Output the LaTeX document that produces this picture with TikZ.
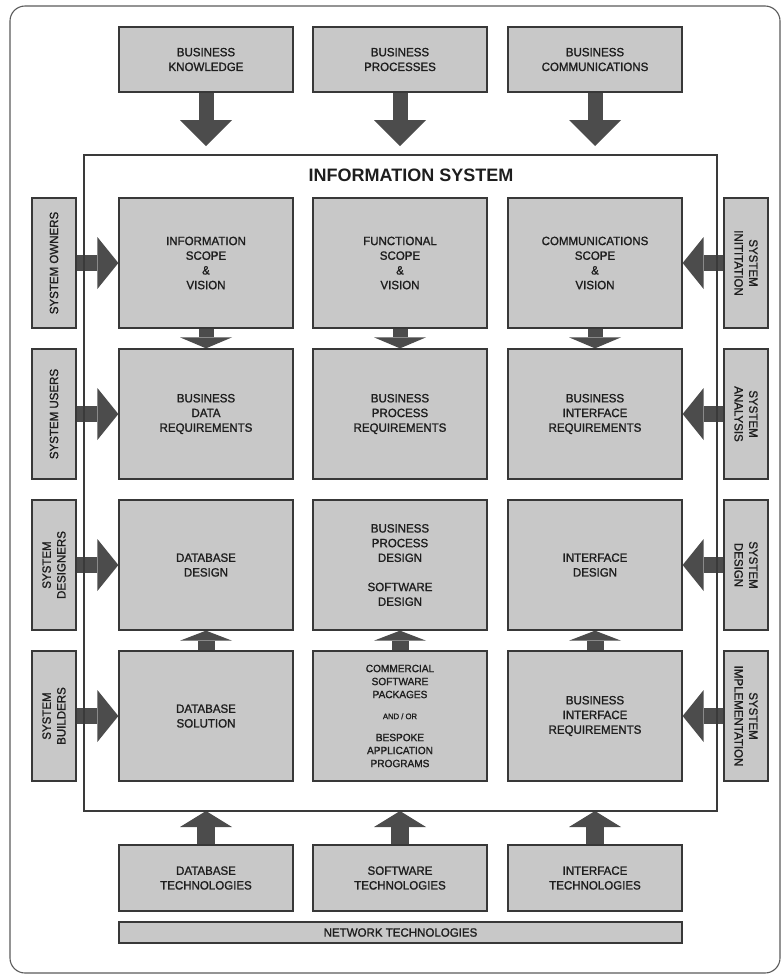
\documentclass[tikz,border=0pt]{standalone}
\usepackage{fontspec}
\setmainfont{Liberation Sans}
\newfontfamily\boxfont{Liberation Sans}[FakeBold=1.3,FakeStretch=0.96]
\usetikzlibrary{arrows.meta}
\definecolor{boxfill}{HTML}{C8C8C8}
\definecolor{boxline}{HTML}{383838}
\definecolor{arrowfill}{HTML}{4C4C4C}
\definecolor{frameline}{HTML}{3A3A3A}
\definecolor{outerline}{HTML}{5A5A5A}
\definecolor{inkdark}{HTML}{1E1E1E}
\pgfdeclarelayer{arrowlayer}
\pgfsetlayers{arrowlayer,main}

\begin{document}
\begin{tikzpicture}[x=1pt,y=-1pt,
  box/.style={draw=boxline, fill=boxfill, line width=1.3pt, text=inkdark,
    align=center, inner sep=0pt, font=\boxfont\fontsize{12}{14.7}\selectfont},
  gridbox/.style={box, minimum width=174pt, minimum height=130pt},
  srcbox/.style={box, minimum width=174pt, minimum height=65pt},
  leftbox/.style={box, rotate=90, minimum width=130pt, minimum height=44pt},
  rightbox/.style={box, rotate=-90, minimum width=130pt, minimum height=44pt},
  fatarrow/.style n args={3}{arrowfill, line width=#1,
    -{Triangle[width=52pt, length=#2, line width=0pt]}},
  framebox/.style={minimum width=633pt, minimum height=656pt, inner sep=0pt, outer sep=0pt},
]
\useasboundingbox (0,0) rectangle (781,975);

% outer rounded border
\draw[outerline, line width=1.1pt, rounded corners=15pt] (10,6) rectangle (780,973);

% information system frame (position only; outline drawn last)
\node[framebox] (isf) at (400.5,483) {};
\node[text=inkdark, font=\fontsize{18}{20}\selectfont\bfseries] (title) at (411,175) {INFORMATION SYSTEM};

% source boxes on top
\node[srcbox] (bk) at (206,59.5) {BUSINESS\\KNOWLEDGE};
\node[srcbox] (bp) at (400,59.5) {BUSINESS\\PROCESSES};
\node[srcbox] (bc) at (595,59.5) {BUSINESS\\COMMUNICATIONS};

% grid of system views
\node[gridbox] (g11) at (206,263) {INFORMATION\\SCOPE\\\&\\VISION};
\node[gridbox] (g12) at (400,263) {FUNCTIONAL\\SCOPE\\\&\\VISION};
\node[gridbox] (g13) at (595,263) {COMMUNICATIONS\\SCOPE\\\&\\VISION};

\node[gridbox] (g21) at (206,414) {BUSINESS\\DATA\\REQUIREMENTS};
\node[gridbox] (g22) at (400,414) {BUSINESS\\PROCESS\\REQUIREMENTS};
\node[gridbox] (g23) at (595,414) {BUSINESS\\INTERFACE\\REQUIREMENTS};

\node[gridbox] (g31) at (206,565) {DATABASE\\DESIGN};
\node[gridbox] (g32) at (400,565) {BUSINESS\\PROCESS\\DESIGN\\[14.5pt]SOFTWARE\\DESIGN};
\node[gridbox] (g33) at (595,565) {INTERFACE\\DESIGN};

\node[gridbox] (g41) at (206,716) {DATABASE\\SOLUTION};
\node[gridbox, font=\boxfont\fontsize{10.5}{13}\selectfont] (g42) at (400,716)
  {COMMERCIAL\\SOFTWARE\\PACKAGES\\[8pt]{\fontsize{8}{9}\selectfont AND / OR}\\[9pt]BESPOKE\\APPLICATION\\PROGRAMS};
\node[gridbox] (g43) at (595,716) {BUSINESS\\INTERFACE\\REQUIREMENTS};

% roles on the left
\node[leftbox] (so) at (54,263) {SYSTEM OWNERS};
\node[leftbox] (su) at (54,414) {SYSTEM USERS};
\node[leftbox] (sd) at (54,565) {SYSTEM\\DESIGNERS};
\node[leftbox] (sb) at (54,716) {SYSTEM\\BUILDERS};

% phases on the right
\node[rightbox] (si) at (746,263) {SYSTEM\\INITITATION};
\node[rightbox] (sa) at (746,414) {SYSTEM\\ANALYSIS};
\node[rightbox] (sg) at (746,565) {SYSTEM\\DESIGN};
\node[rightbox] (sm) at (746,716) {SYSTEM\\IMPLEMENTATION};

% technology boxes at the bottom
\node[srcbox, minimum height=66pt] (dbt) at (206,878) {DATABASE\\TECHNOLOGIES};
\node[srcbox, minimum height=66pt] (swt) at (400,878) {SOFTWARE\\TECHNOLOGIES};
\node[srcbox, minimum height=66pt] (ift) at (595,878) {INTERFACE\\TECHNOLOGIES};
\node[box, minimum width=563pt, minimum height=21pt] (net) at (400.5,932.5) {NETWORK TECHNOLOGIES};

% block arrows
\begin{pgfonlayer}{arrowlayer}
  \foreach \s in {bk,bp,bc}
    \draw[fatarrow={15pt}{26pt}{52pt}, shorten >=9pt] (\s.south) -- (\s.south |- isf.north);
  \foreach \a/\b in {g11/g21,g12/g22,g13/g23}
    \draw[fatarrow={15pt}{11pt}{52pt}] (\a.south) -- (\b.north);
  \foreach \a/\b in {g41/g31,g42/g32,g43/g33}
    \draw[fatarrow={17pt}{10pt}{52pt}] (\a.north) -- (\b.south);
  \foreach \a/\b in {so/g11,su/g21,sd/g31,sb/g41}
    \draw[fatarrow={16pt}{21pt}{52pt}] (\a.south) -- (\b.west);
  \foreach \a/\b in {si/g13,sa/g23,sg/g33,sm/g43}
    \draw[fatarrow={16pt}{21pt}{52pt}] (\a.south) -- (\b.east);
  \foreach \s in {dbt,swt,ift}
    \draw[fatarrow={18pt}{16pt}{52pt}] (\s.north) -- (\s.north |- isf.south);
\end{pgfonlayer}

% frame outline on top of the side arrows
\draw[frameline, line width=1.3pt] (isf.north west) rectangle (isf.south east);
\end{tikzpicture}
\end{document}
